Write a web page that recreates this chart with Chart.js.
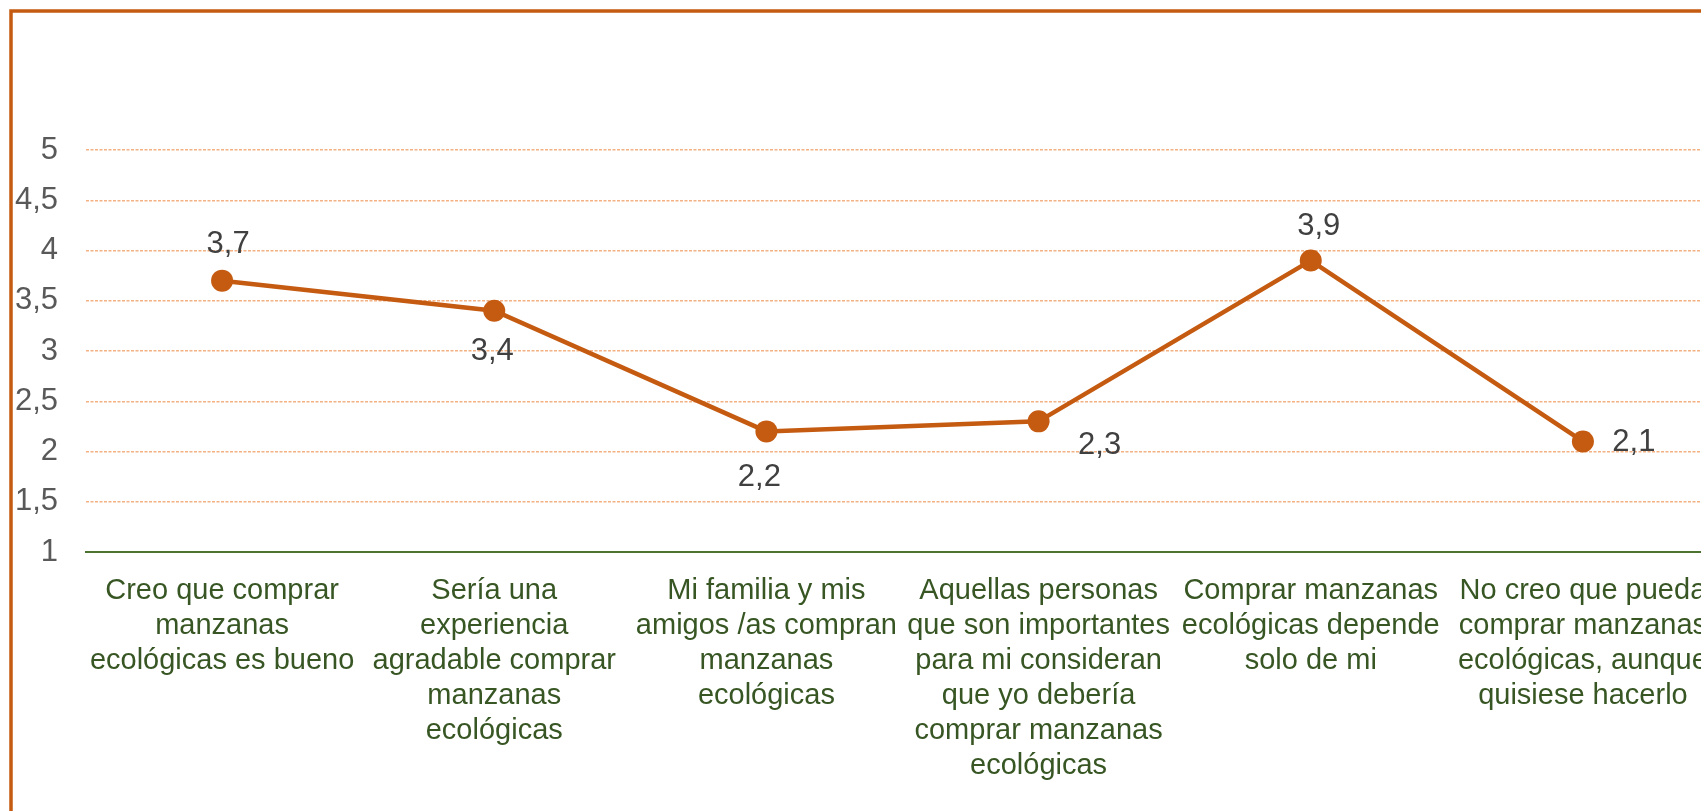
<!DOCTYPE html>
<html>
<head>
<meta charset="utf-8">
<script src="https://cdn.jsdelivr.net/npm/chart.js@4"></script>
<style>
  html, body { margin: 0; padding: 0; background: #fff; overflow: hidden; width: 1701px; height: 811px; }
  canvas { display: block; position: absolute; left: 0; top: 0; }
</style>
</head>
<body>
<canvas id="c" width="1730" height="811"></canvas>
<script>
// ---- data ----
const categories = [
  ["Creo que comprar", "manzanas", "ecológicas es bueno"],
  ["Sería una", "experiencia", "agradable comprar", "manzanas", "ecológicas"],
  ["Mi familia y mis", "amigos /as compran", "manzanas", "ecológicas"],
  ["Aquellas personas", "que son importantes", "para mi consideran", "que yo debería", "comprar manzanas", "ecológicas"],
  ["Comprar manzanas", "ecológicas depende", "solo de mi"],
  ["No creo que pueda", "comprar manzanas", "ecológicas, aunque", "quisiese hacerlo"]
];
const values = [3.7, 3.4, 2.2, 2.3, 3.9, 2.1];
const yMin = 1, yMax = 5, yStep = 0.5;

// ---- styles ----
const FONT = "'Liberation Sans', Arial, sans-serif";
const ORANGE = '#C55A11';
const labelOffsets = [[6, -36], [-2, 41], [-7, 46], [61, 24], [8, -34], [51, 1]];

const fmt = v => String(v).replace('.', ',');

const framePlugin = {
  id: 'frame',
  beforeDraw(chart) {
    const ctx = chart.ctx;
    ctx.save();
    ctx.fillStyle = '#fff';
    ctx.fillRect(0, 0, chart.width, chart.height);
    ctx.strokeStyle = ORANGE;
    ctx.lineWidth = 3.5;
    ctx.strokeRect(11, 11, 4000, 4000);
    ctx.restore();
  }
};

const dataLabelPlugin = {
  id: 'dataLabels',
  afterDatasetsDraw(chart) {
    const ctx = chart.ctx;
    const meta = chart.getDatasetMeta(0);
    ctx.save();
    ctx.font = '31px ' + FONT;
    ctx.fillStyle = '#404040';
    ctx.textAlign = 'center';
    ctx.textBaseline = 'middle';
    meta.data.forEach((pt, i) => {
      const o = labelOffsets[i];
      ctx.fillText(fmt(values[i]), pt.x + o[0], pt.y + o[1]);
    });
    ctx.restore();
  }
};

new Chart(document.getElementById('c'), {
  type: 'line',
  data: {
    labels: categories,
    datasets: [{
      data: values,
      borderColor: ORANGE,
      backgroundColor: ORANGE,
      borderWidth: 4.5,
      pointRadius: 11,
      pointHoverRadius: 11,
      pointBackgroundColor: ORANGE,
      pointBorderWidth: 0,
      tension: 0,
      fill: false
    }]
  },
  options: {
    responsive: false,
    animation: false,
    devicePixelRatio: 1,
    layout: { padding: { left: 0, right: 2, top: 150, bottom: 0 } },
    plugins: { legend: { display: false }, tooltip: { enabled: false } },
    scales: {
      x: {
        offset: true,
        grid: { display: false, drawTicks: false },
        border: { display: true, color: '#4C7330', width: 2 },
        ticks: {
          autoSkip: false, maxRotation: 0, minRotation: 0,
          padding: 21,
          color: '#375623',
          font: { family: FONT, size: 29, lineHeight: '35px' }
        },
        afterFit(s) { s.height = 259; s.paddingLeft = 0; s.paddingRight = 0; }
      },
      y: {
        min: yMin, max: yMax,
        grid: {
          drawTicks: false,
          color: ctx => ctx.tick && ctx.tick.value === yMin ? 'rgba(0,0,0,0)' : '#F4B183',
          lineWidth: 1.5
        },
        border: { display: false, dash: [3, 1.5] },
        ticks: {
          stepSize: yStep,
          padding: 28,
          color: '#595959',
          font: { family: FONT, size: 31 },
          callback: v => fmt(v)
        },
        afterFit(s) { s.width = 86; }
      }
    }
  },
  plugins: [framePlugin, dataLabelPlugin]
});
</script>
</body>
</html>
